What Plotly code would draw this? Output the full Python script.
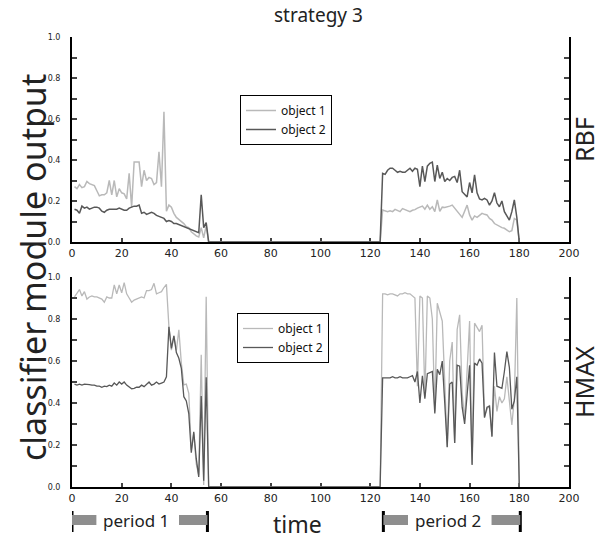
import plotly.graph_objects as go

# ---------------- data ----------------
time_p1 = list(range(1, 56))      # period 1 samples
time_p2 = list(range(124, 181))   # period 2 samples (first and last are 0)
time_all = time_p1 + time_p2

rbf_obj1_p1 = [0.27, 0.26, 0.28, 0.265, 0.27, 0.295, 0.285, 0.28, 0.275, 0.25,
               0.225, 0.23, 0.23, 0.24, 0.30, 0.23, 0.30, 0.22, 0.26, 0.24,
               0.235, 0.21, 0.335, 0.17, 0.39, 0.39, 0.39, 0.27, 0.35, 0.30,
               0.315, 0.31, 0.28, 0.29, 0.44, 0.27, 0.635, 0.15, 0.18, 0.17,
               0.14, 0.12, 0.11, 0.10, 0.09, 0.075, 0.07, 0.05, 0.04, 0.03,
               0.025, 0.07, 0.02, 0.08, 0.0]
rbf_obj2_p1 = [0.16, 0.155, 0.14, 0.175, 0.165, 0.17, 0.16, 0.165, 0.17, 0.17,
               0.165, 0.15, 0.145, 0.155, 0.16, 0.16, 0.16, 0.16, 0.165, 0.16,
               0.155, 0.155, 0.165, 0.17, 0.175, 0.175, 0.18, 0.14, 0.145, 0.135,
               0.14, 0.145, 0.14, 0.13, 0.125, 0.12, 0.115, 0.10, 0.105, 0.10,
               0.09, 0.09, 0.085, 0.08, 0.075, 0.07, 0.065, 0.06, 0.055, 0.05,
               0.045, 0.23, 0.07, 0.095, 0.0]
rbf_obj1_p2 = [0.0,
               0.156, 0.15, 0.148, 0.152, 0.148, 0.159, 0.152, 0.148, 0.163, 0.158,
               0.152, 0.148, 0.155, 0.158, 0.165, 0.169, 0.175, 0.16, 0.18, 0.16,
               0.172, 0.148, 0.205, 0.15, 0.17, 0.168, 0.17, 0.175, 0.18, 0.165,
               0.155, 0.14, 0.12, 0.15, 0.18, 0.132, 0.107, 0.127, 0.12, 0.13,
               0.14, 0.135, 0.132, 0.115, 0.107, 0.09, 0.082, 0.075, 0.07, 0.067,
               0.06, 0.05, 0.055, 0.115, 0.107, 0.0]
rbf_obj2_p2 = [0.0,
               0.335, 0.33, 0.35, 0.36, 0.36, 0.35, 0.34, 0.345, 0.34, 0.34,
               0.35, 0.36, 0.345, 0.36, 0.355, 0.27, 0.37, 0.295, 0.37, 0.384,
               0.39, 0.295, 0.375, 0.31, 0.34, 0.295, 0.31, 0.30, 0.315, 0.32,
               0.29, 0.35, 0.245, 0.23, 0.22, 0.29, 0.24, 0.327, 0.24, 0.21,
               0.205, 0.213, 0.205, 0.18, 0.20, 0.24, 0.19, 0.172, 0.20, 0.148,
               0.125, 0.107, 0.148, 0.205, 0.12, 0.0]

hmax_obj1_p1 = [0.905, 0.92, 0.94, 0.91, 0.93, 0.895, 0.905, 0.91, 0.905, 0.905,
                0.90, 0.895, 0.88, 0.905, 0.90, 0.90, 0.962, 0.92, 0.962, 0.925,
                0.973, 0.92, 0.90, 0.88, 0.89, 0.895, 0.90, 0.905, 0.90, 0.935,
                0.935, 0.94, 0.97, 0.92, 0.925, 0.93, 0.95, 0.965, 0.763, 0.652,
                0.72, 0.65, 0.748, 0.59, 0.486, 0.49, 0.446, 0.176, 0.255, 0.11,
                0.057, 0.63, 0.01, 0.906, 0.0]
hmax_obj2_p1 = [0.49, 0.485, 0.49, 0.485, 0.49, 0.49, 0.488, 0.485, 0.485, 0.48,
                0.48, 0.475, 0.48, 0.478, 0.485, 0.48, 0.495, 0.485, 0.50, 0.49,
                0.50, 0.485, 0.475, 0.468, 0.47, 0.475, 0.475, 0.485, 0.478, 0.49,
                0.50, 0.485, 0.49, 0.50, 0.49, 0.495, 0.50, 0.525, 0.763, 0.66,
                0.72, 0.64, 0.613, 0.565, 0.43, 0.41, 0.35, 0.163, 0.263, 0.136,
                0.048, 0.433, 0.03, 0.522, 0.0]
hmax_obj1_p2 = [0.0,
                0.92, 0.92, 0.915, 0.92, 0.92, 0.915, 0.91, 0.92, 0.92, 0.925,
                0.92, 0.92, 0.91, 0.90, 0.48, 0.91, 0.90, 0.43, 0.91, 0.90,
                0.80, 0.36, 0.875, 0.83, 0.79, 0.50, 0.19, 0.60, 0.69, 0.21,
                0.75, 0.82, 0.45, 0.32, 0.55, 0.79, 0.11, 0.78, 0.76, 0.74,
                0.77, 0.335, 0.37, 0.39, 0.24, 0.48, 0.36, 0.43, 0.40, 0.42,
                0.525, 0.42, 0.295, 0.42, 0.90, 0.0]
hmax_obj2_p2 = [0.0,
                0.52, 0.52, 0.52, 0.52, 0.525, 0.52, 0.52, 0.525, 0.52, 0.52,
                0.52, 0.525, 0.53, 0.50, 0.55, 0.40, 0.53, 0.42, 0.54, 0.545,
                0.55, 0.35, 0.56, 0.535, 0.60, 0.40, 0.19, 0.49, 0.50, 0.21,
                0.58, 0.575, 0.38, 0.30, 0.44, 0.58, 0.105, 0.59, 0.58, 0.61,
                0.59, 0.33, 0.38, 0.385, 0.24, 0.64, 0.48, 0.475, 0.47, 0.55,
                0.645, 0.57, 0.37, 0.41, 0.525, 0.0]

series_names = ["object 1", "object 2"]
x_ticks = list(range(0, 201, 20))
y_ticks = [round(i * 0.1, 1) for i in range(11)]
y_ticktext = [f"{v:.1f}" if i % 2 == 0 else "" for i, v in enumerate(y_ticks)]
periods = [("period 1", 0, 54.5), ("period 2", 125.3, 180.4)]

# ---------------- styles ----------------
LIGHT = "#b9b9b9"
DARK = "#585858"
BAR = "#8e8e8e"

# pixel helpers (plot area: x 72..569, y 37..487)
L, R, T, B = 72, 33, 37, 52
W, H = 602, 539
PW, PH = W - L - R, H - T - B


def px_x(px):
    return (px - L) / PW


def px_y(py):
    return (H - B - py) / PH


fig = go.Figure()
fig.add_trace(go.Scatter(x=time_all, y=rbf_obj1_p1 + rbf_obj1_p2, name=series_names[0],
                         mode="lines", line=dict(color=LIGHT, width=1.5),
                         xaxis="x", yaxis="y", legend="legend"))
fig.add_trace(go.Scatter(x=time_all, y=rbf_obj2_p1 + rbf_obj2_p2, name=series_names[1],
                         mode="lines", line=dict(color=DARK, width=1.5),
                         xaxis="x", yaxis="y", legend="legend"))
fig.add_trace(go.Scatter(x=time_all, y=hmax_obj1_p1 + hmax_obj1_p2, name=series_names[0],
                         mode="lines", line=dict(color=LIGHT, width=1.3),
                         xaxis="x2", yaxis="y2", legend="legend2"))
fig.add_trace(go.Scatter(x=time_all, y=hmax_obj2_p1 + hmax_obj2_p2, name=series_names[1],
                         mode="lines", line=dict(color=DARK, width=1.3),
                         xaxis="x2", yaxis="y2", legend="legend2"))

xcommon = dict(range=[0, 200], tickvals=x_ticks, ticks="inside", ticklen=4, tickwidth=1.5,
               showline=True, linewidth=2, linecolor="black", mirror=False,
               showgrid=False, zeroline=False, layer="below traces",
               tickfont=dict(family="DejaVu Sans", size=11, color="#222"))
ycommon = dict(range=[0, 1], tickvals=y_ticks, ticktext=y_ticktext, ticks="inside",
               ticklen=5, tickwidth=1.5, showline=True, linewidth=2, linecolor="black",
               mirror="ticks", showgrid=False, zeroline=False, layer="below traces",
               ticklabelstandoff=8,
               tickfont=dict(family="DejaVu Sans", size=8, color="#222"))

top_dom = [px_y(242), 1.0]
bot_dom = [0.0, px_y(277)]

legend_common = dict(bgcolor="white", bordercolor="black", borderwidth=1,
                     font=dict(family="Noto Sans", size=12, color="#111"),
                     xanchor="left", yanchor="top", itemwidth=30, tracegroupgap=0)

fig.update_layout(
    width=W, height=H, margin=dict(l=L, r=R, t=T, b=B),
    paper_bgcolor="white", plot_bgcolor="white",
    xaxis=dict(**xcommon, anchor="y", domain=[0, 1]),
    yaxis=dict(**ycommon, anchor="x", domain=top_dom),
    xaxis2=dict(**xcommon, anchor="y2", domain=[0, 1]),
    yaxis2=dict(**ycommon, anchor="x2", domain=bot_dom),
    legend=dict(**legend_common, x=px_x(240), y=px_y(95)),
    legend2=dict(**legend_common, x=px_x(237), y=px_y(313)),
    showlegend=True,
)

ann = [
    dict(text="strategy 3", x=px_x(318), y=px_y(15), font=dict(family="Noto Sans", size=19, color="#222")),
    dict(text="classifier module output", x=px_x(33), y=px_y(268), textangle=-90,
         font=dict(family="Noto Sans", size=34, color="#222")),
    dict(text="RBF", x=px_x(584), y=px_y(140), textangle=-90,
         font=dict(family="Noto Sans", size=25, color="#222")),
    dict(text="HMAX", x=px_x(584), y=px_y(382), textangle=-90,
         font=dict(family="Noto Sans", size=25, color="#222")),
    dict(text="time", x=px_x(297), y=px_y(524), font=dict(family="Noto Sans", size=23, color="#222")),
]
for a in ann:
    fig.add_annotation(xref="paper", yref="paper", showarrow=False, xanchor="center",
                       yanchor="middle", **a)

shapes = []
y0m, y1m = px_y(532), px_y(511)
y0b, y1b = px_y(525), px_y(515)
for label, s, e in periods:
    span = e - s
    for xv in (s, e):
        shapes.append(dict(type="line", xref="x2", yref="paper", x0=xv, x1=xv, y0=y0m, y1=y1m,
                           line=dict(color="black", width=3)))
    shapes.append(dict(type="rect", xref="x2", yref="paper", x0=s, x1=s + span * 0.18,
                       y0=y0b, y1=y1b, fillcolor=BAR, line=dict(width=0)))
    shapes.append(dict(type="rect", xref="x2", yref="paper", x0=e - span * 0.21, x1=e,
                       y0=y0b, y1=y1b, fillcolor=BAR, line=dict(width=0)))
    fig.add_annotation(xref="x2", yref="paper", x=s + span * 0.47, y=px_y(520), text=label,
                       showarrow=False, xanchor="center", yanchor="middle",
                       font=dict(family="Noto Sans", size=17, color="#222"))
fig.update_layout(shapes=shapes)

fig.write_html("out.html")
